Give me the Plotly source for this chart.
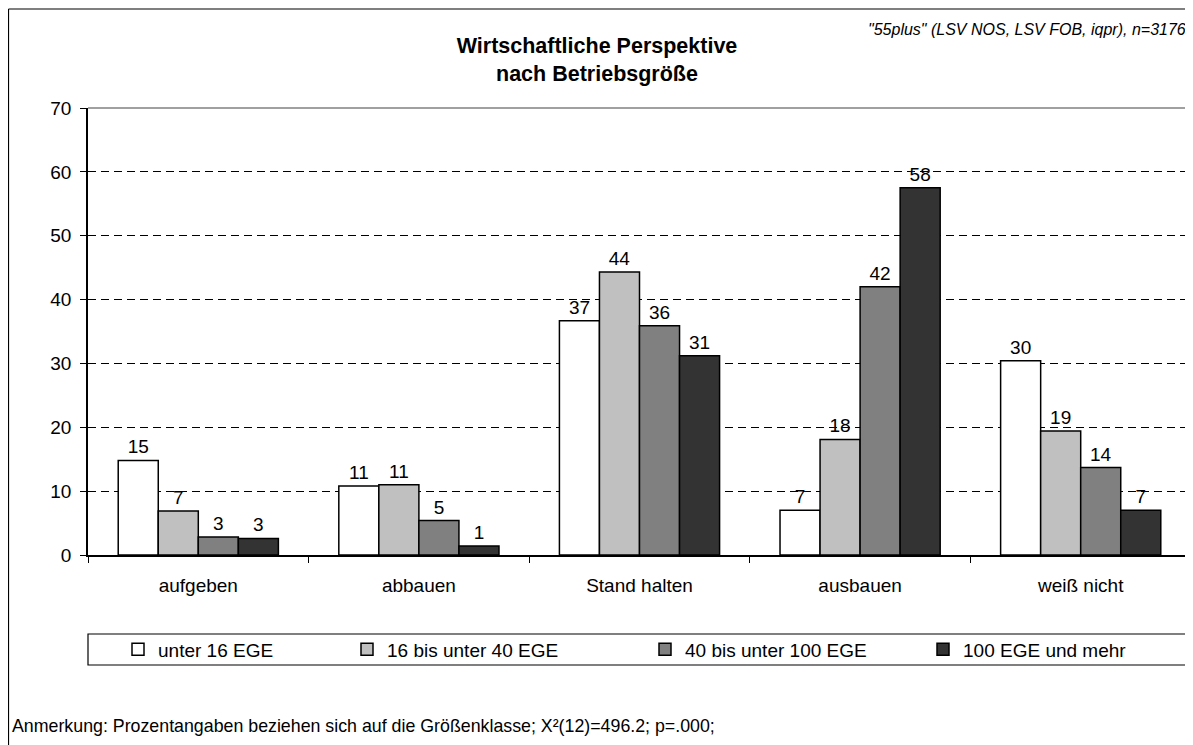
import plotly.graph_objects as go

categories = ["aufgeben", "abbauen", "Stand halten", "ausbauen", "weiß nicht"]
series_names = ["unter 16 EGE", "16 bis unter 40 EGE", "40 bis unter 100 EGE", "100 EGE und mehr"]
unter16 = [14.8, 10.8, 36.7, 7.0, 30.4]
bis40 = [6.9, 11.0, 44.3, 18.1, 19.4]
bis100 = [2.8, 5.4, 35.9, 42.0, 13.7]
ab100 = [2.6, 1.4, 31.2, 57.5, 7.0]
colors = ["#FFFFFF", "#C0C0C0", "#808080", "#333333"]
y_ticks = [0, 10, 20, 30, 40, 50, 60, 70]

FONT = "Liberation Sans, Arial, sans-serif"

# figure geometry (page is offset by the 8px body margin)
W, H = 1185, 737
ML, MR, MT, MB = 80, 2, 100, 190
PW, PH = W - ML - MR, H - MT - MB


def px(fx):
    return (fx - ML) / PW


def py(fy):
    return (H - MB - fy) / PH


legend_ids = ["legend", "legend2", "legend3", "legend4"]
legend_x_fig = [110, 339, 637, 915]

fig = go.Figure()
for name, vals, col, lid in zip(series_names, [unter16, bis40, bis100, ab100], colors, legend_ids):
    fig.add_trace(go.Bar(
        x=categories, y=vals, name=name, legend=lid,
        marker=dict(color=col, line=dict(color="black", width=1.5)),
        text=[f"{v:.0f}" for v in vals], textposition="outside",
        textfont=dict(family=FONT, size=19, color="black"),
        cliponaxis=False,
    ))

legend_common = dict(orientation="h", xanchor="left", y=py(641.5), yanchor="middle",
                     bgcolor="rgba(0,0,0,0)", borderwidth=0,
                     font=dict(family=FONT, size=19, color="black"))
layout_legends = {lid: dict(x=px(lx), **legend_common) for lid, lx in zip(legend_ids, legend_x_fig)}

fig.update_layout(
    width=W, height=H,
    margin=dict(l=ML, r=MR, t=MT, b=MB),
    paper_bgcolor="white", plot_bgcolor="white",
    barmode="group", bargap=0.274, bargroupgap=0,
    font=dict(family=FONT, size=19, color="black"),
    title=dict(text="<b>Wirtschaftliche Perspektive<br>nach Betriebsgröße</b>",
               x=px(589), xref="paper", xanchor="center",
               y=1 - 45 / H, yref="container", yanchor="top",
               font=dict(family=FONT, size=21.5, color="black")),
    showlegend=True,
    uniformtext=dict(minsize=19, mode="show"),
    **layout_legends,
)

fig.update_xaxes(
    showline=True, linecolor="black", linewidth=1.5,
    ticks="outside", tickson="boundaries", ticklen=6, tickcolor="black",
    ticklabelstandoff=12,
    tickfont=dict(family=FONT, size=19, color="black"),
    showgrid=False, mirror=False,
)
fig.update_yaxes(
    range=[0, 70], tickvals=y_ticks, showline=True, linecolor="black", linewidth=1.5,
    ticks="outside", ticklen=6, tickcolor="black", ticklabelstandoff=5,
    tickfont=dict(family=FONT, size=19, color="black"),
    showgrid=True, gridcolor="black", gridwidth=1, griddash="8px,5px",
    zeroline=False, mirror=False,
)

# plot area top / right border (gray)
fig.add_shape(type="line", xref="paper", yref="paper", x0=0, x1=1, y0=1, y1=1,
              line=dict(color="#808080", width=1.5), layer="above")
fig.add_shape(type="line", xref="paper", yref="paper", x0=1, x1=1, y0=0, y1=1,
              line=dict(color="#808080", width=1.5), layer="above")

# outer frame (left and top edges of the chart object)
fig.add_shape(type="line", xref="paper", yref="paper", x0=px(0.5), x1=px(W + 5), y0=py(1), y1=py(1),
              line=dict(color="black", width=1.2))
fig.add_shape(type="line", xref="paper", yref="paper", x0=px(0.5), x1=px(0.5), y0=py(1), y1=py(H + 5),
              line=dict(color="black", width=1.2))

# legend box
fig.add_shape(type="rect", xref="paper", yref="paper", x0=0.0, x1=px(W + 5),
              y0=py(657), y1=py(626),
              line=dict(color="black", width=1.2), fillcolor="rgba(0,0,0,0)")

fig.add_annotation(text="<i>\"55plus\" (LSV NOS, LSV FOB, iqpr), n=3176</i>",
                   xref="paper", yref="paper", x=px(1180), y=py(21),
                   xanchor="right", yanchor="middle", showarrow=False,
                   font=dict(family=FONT, size=16, color="black"))
fig.add_annotation(text="Anmerkung: Prozentangaben beziehen sich auf die Größenklasse; X²(12)=496.2; p=.000;",
                   xref="paper", yref="paper", x=px(2), y=py(718),
                   xanchor="left", yanchor="middle", showarrow=False,
                   font=dict(family=FONT, size=17.8, color="black"))

fig.write_html("out.html")
